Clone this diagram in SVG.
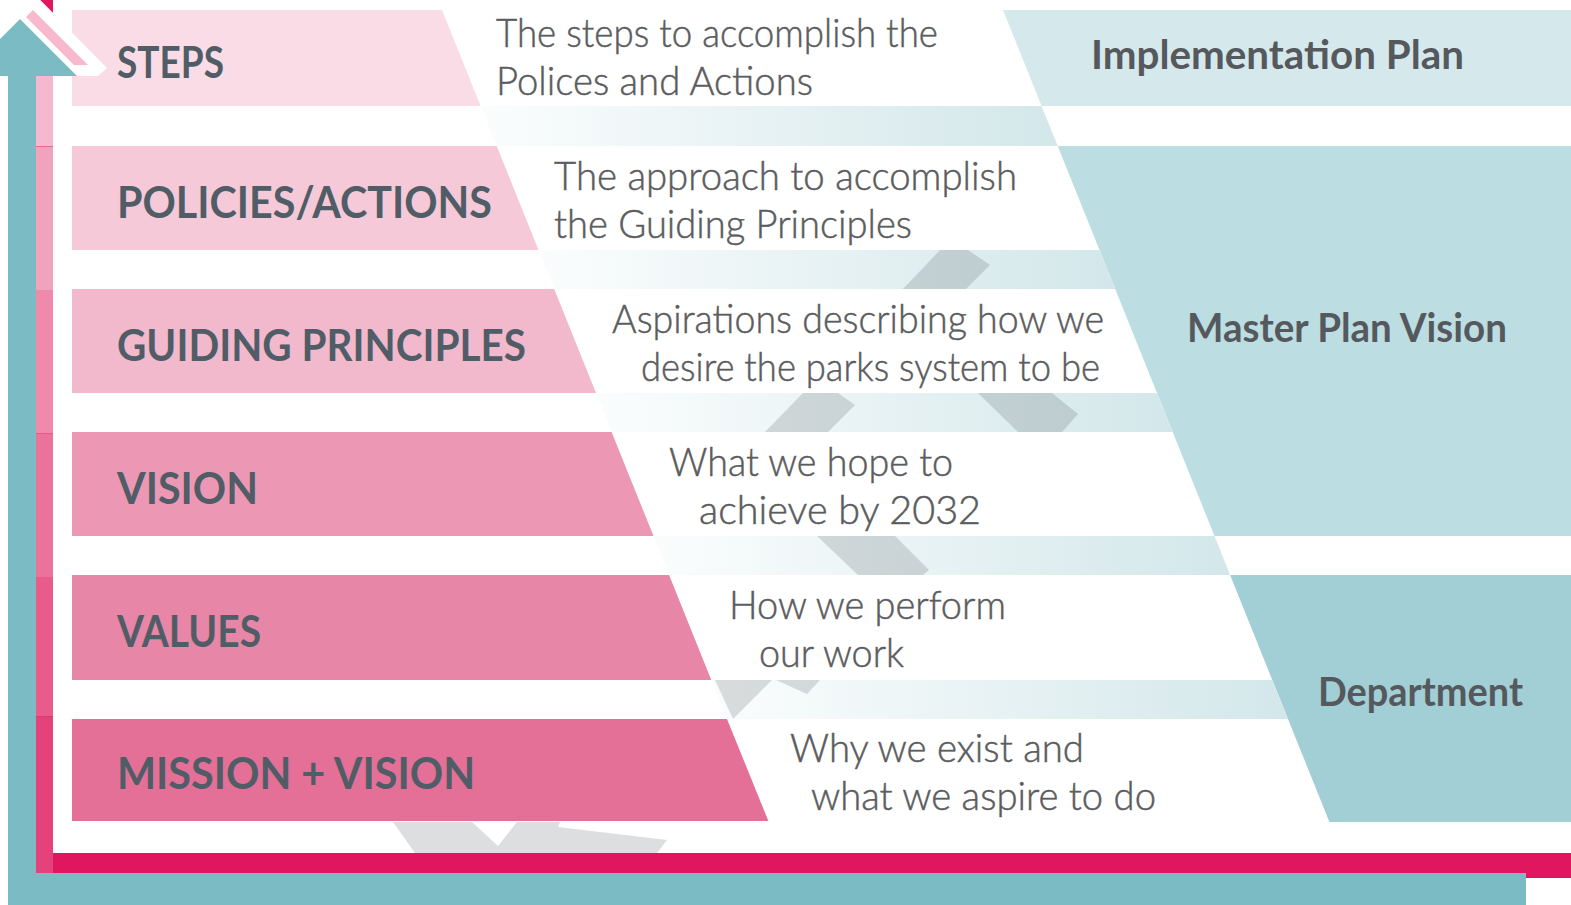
<svg xmlns="http://www.w3.org/2000/svg" width="1571" height="905" viewBox="0 0 1571 905">
<style>
.lbl{font-family:Lato,"Noto Sans","DejaVu Sans",sans-serif;font-weight:700;font-size:43px;fill:#505d66}
.rl{font-family:Lato,"Noto Sans","DejaVu Sans",sans-serif;font-weight:700;font-size:40px;fill:#55595d}
.dsc{font-family:Lato,"Noto Sans","DejaVu Sans",sans-serif;font-weight:300;font-size:40px;fill:#5b5c5e;stroke:#5b5c5e;stroke-width:0.5px}
.gray{fill:#3b4a50;fill-opacity:0.18}
</style>
<defs>
<linearGradient id="strip" x1="0" y1="0" x2="1" y2="0">
<stop offset="0" stop-color="#fbfdfd"/>
<stop offset="1" stop-color="#d3e7ea"/>
</linearGradient>
</defs>
<rect width="1571" height="905" fill="#ffffff"/>

<g id="bands">
<g id="steps"><polygon points="72,10 442,10 480.6,106 72,106" fill="#f9dce6"/></g>
<g id="policies"><polygon points="72,146 496.7,146 538.5,250 72,250" fill="#f5c9d8"/></g>
<g id="guiding"><polygon points="72,289 554.2,289 596,393 72,393" fill="#f2b8cc"/></g>
<g id="vision"><polygon points="72,432 611.6,432 653.5,536 72,536" fill="#ec98b5"/></g>
<g id="values"><polygon points="72,575 669.1,575 711.3,680 72,680" fill="#e886a7"/></g>
<g id="mission"><polygon points="72,719 727,719 768.4,821 72,821" fill="#e47098"/></g>
</g>

<g id="right">
<g id="impl"><polygon points="1003,10 1571,10 1571,106 1041.6,106" fill="#d5e9ec"/></g>
<g id="master"><polygon points="1057.7,146 1571,146 1571,536 1214.5,536" fill="#bcdde2"/></g>
<g id="dept"><polygon points="1230.1,575 1571,575 1571,822 1329.4,822" fill="#a1cfd5"/></g>
</g>

<g id="strips" fill="url(#strip)">
<polygon points="480.6,106 1041.6,106 1057.7,146 496.7,146"/>
<polygon points="538.5,250 1099.5,250 1115.2,289 554.2,289"/>
<polygon points="596,393 1157,393 1172.6,432 611.6,432"/>
<polygon points="653.5,536 1214.5,536 1230.1,575 669.1,575"/>
<polygon points="711.3,680 1272.3,680 1288,719 727,719"/>
</g>

<g id="chevrons">
<polygon class="gray" points="903,289 940,250 968,250 990,265 966,289"/>
<polygon class="gray" points="765,432 803,393 838,393 855,405 828,432"/>
<polygon class="gray" points="978,393 1052,393 1078,414 1062,432 1018,432"/>
<polygon class="gray" points="817,536 895,536 929,570 923,575 858,575"/>
<polygon class="gray" points="715,680 772,680 733,719"/>
<polygon class="gray" points="776,680 807,694 820,680"/>
<polygon class="gray" points="393,822 472,822 498,846 517,822 560,822 558,827 667,840 657,853 415,853"/>
</g>

<g id="axes">
<rect x="52" y="853" width="1519" height="25" fill="#e0175e"/>
<rect x="36" y="65" width="17" height="81" fill="#f5b8ce"/>
<rect x="36" y="146" width="17" height="144" fill="#f1a2bd"/>
<rect x="36" y="290" width="17" height="143" fill="#ef8aab"/>
<rect x="36" y="433" width="17" height="144" fill="#eb739b"/>
<rect x="36" y="577" width="17" height="139" fill="#e85b8b"/>
<rect x="36" y="716" width="17" height="157" fill="#e5417a"/>
<rect x="36" y="146" width="17" height="1" fill="#e8668f"/>
<rect x="36" y="433" width="17" height="1" fill="#e45b88"/>
<rect x="36" y="716" width="17" height="1" fill="#d93a6e"/>
<rect x="8" y="76" width="28" height="829" fill="#7abbc4"/>
<rect x="8" y="873" width="1518" height="32" fill="#7abbc4"/>
<polygon points="40,0 53,0 53,13" fill="#e0175e"/>
<polygon points="14,0 28,0 21,7" fill="#7abbc4"/>
<polygon points="40,0 107,68 98,76 0,76 0,0" fill="#ffffff"/>
<polygon points="33,10 88,65 -22,65" fill="#f7b9ce"/>
<polygon points="20,11 85,76 -45,76" fill="#ffffff"/>
<polygon points="20,19 77,76 -37,76" fill="#7abbc4"/>
</g>

<g id="labels">
<text class="lbl" x="117" y="78" textLength="107" lengthAdjust="spacingAndGlyphs">STEPS</text>
<text class="lbl" x="117" y="218" textLength="375" lengthAdjust="spacingAndGlyphs">POLICIES/ACTIONS</text>
<text class="lbl" x="117" y="361" textLength="409" lengthAdjust="spacingAndGlyphs">GUIDING PRINCIPLES</text>
<text class="lbl" x="117" y="504" textLength="141" lengthAdjust="spacingAndGlyphs">VISION</text>
<text class="lbl" x="117" y="647" textLength="144" lengthAdjust="spacingAndGlyphs">VALUES</text>
<text class="lbl" x="117" y="789" textLength="358" lengthAdjust="spacingAndGlyphs">MISSION + VISION</text>
</g>

<g id="descriptions">
<text class="dsc" x="496" y="47" textLength="442" lengthAdjust="spacingAndGlyphs">The steps to accomplish the</text>
<text class="dsc" x="496" y="95" textLength="317" lengthAdjust="spacingAndGlyphs">Polices and Actions</text>
<text class="dsc" x="554" y="190" textLength="463" lengthAdjust="spacingAndGlyphs">The approach to accomplish</text>
<text class="dsc" x="554" y="238" textLength="358" lengthAdjust="spacingAndGlyphs">the Guiding Principles</text>
<text class="dsc" x="612" y="333" textLength="492" lengthAdjust="spacingAndGlyphs">Aspirations describing how we</text>
<text class="dsc" x="641" y="381" textLength="459" lengthAdjust="spacingAndGlyphs">desire the parks system to be</text>
<text class="dsc" x="669" y="476" textLength="284" lengthAdjust="spacingAndGlyphs">What we hope to</text>
<text class="dsc" x="699" y="524" textLength="282" lengthAdjust="spacingAndGlyphs">achieve by 2032</text>
<text class="dsc" x="729" y="619" textLength="277" lengthAdjust="spacingAndGlyphs">How we perform</text>
<text class="dsc" x="759" y="667" textLength="145" lengthAdjust="spacingAndGlyphs">our work</text>
<text class="dsc" x="790" y="762" textLength="294" lengthAdjust="spacingAndGlyphs">Why we exist and</text>
<text class="dsc" x="811" y="810" textLength="345" lengthAdjust="spacingAndGlyphs">what we aspire to do</text>
</g>

<g id="right-labels">
<text class="rl" x="1091" y="69" textLength="373" lengthAdjust="spacingAndGlyphs">Implementation Plan</text>
<text class="rl" x="1187" y="342" textLength="320" lengthAdjust="spacingAndGlyphs">Master Plan Vision</text>
<text class="rl" x="1318" y="706" textLength="205" lengthAdjust="spacingAndGlyphs">Department</text>
</g>
</svg>
